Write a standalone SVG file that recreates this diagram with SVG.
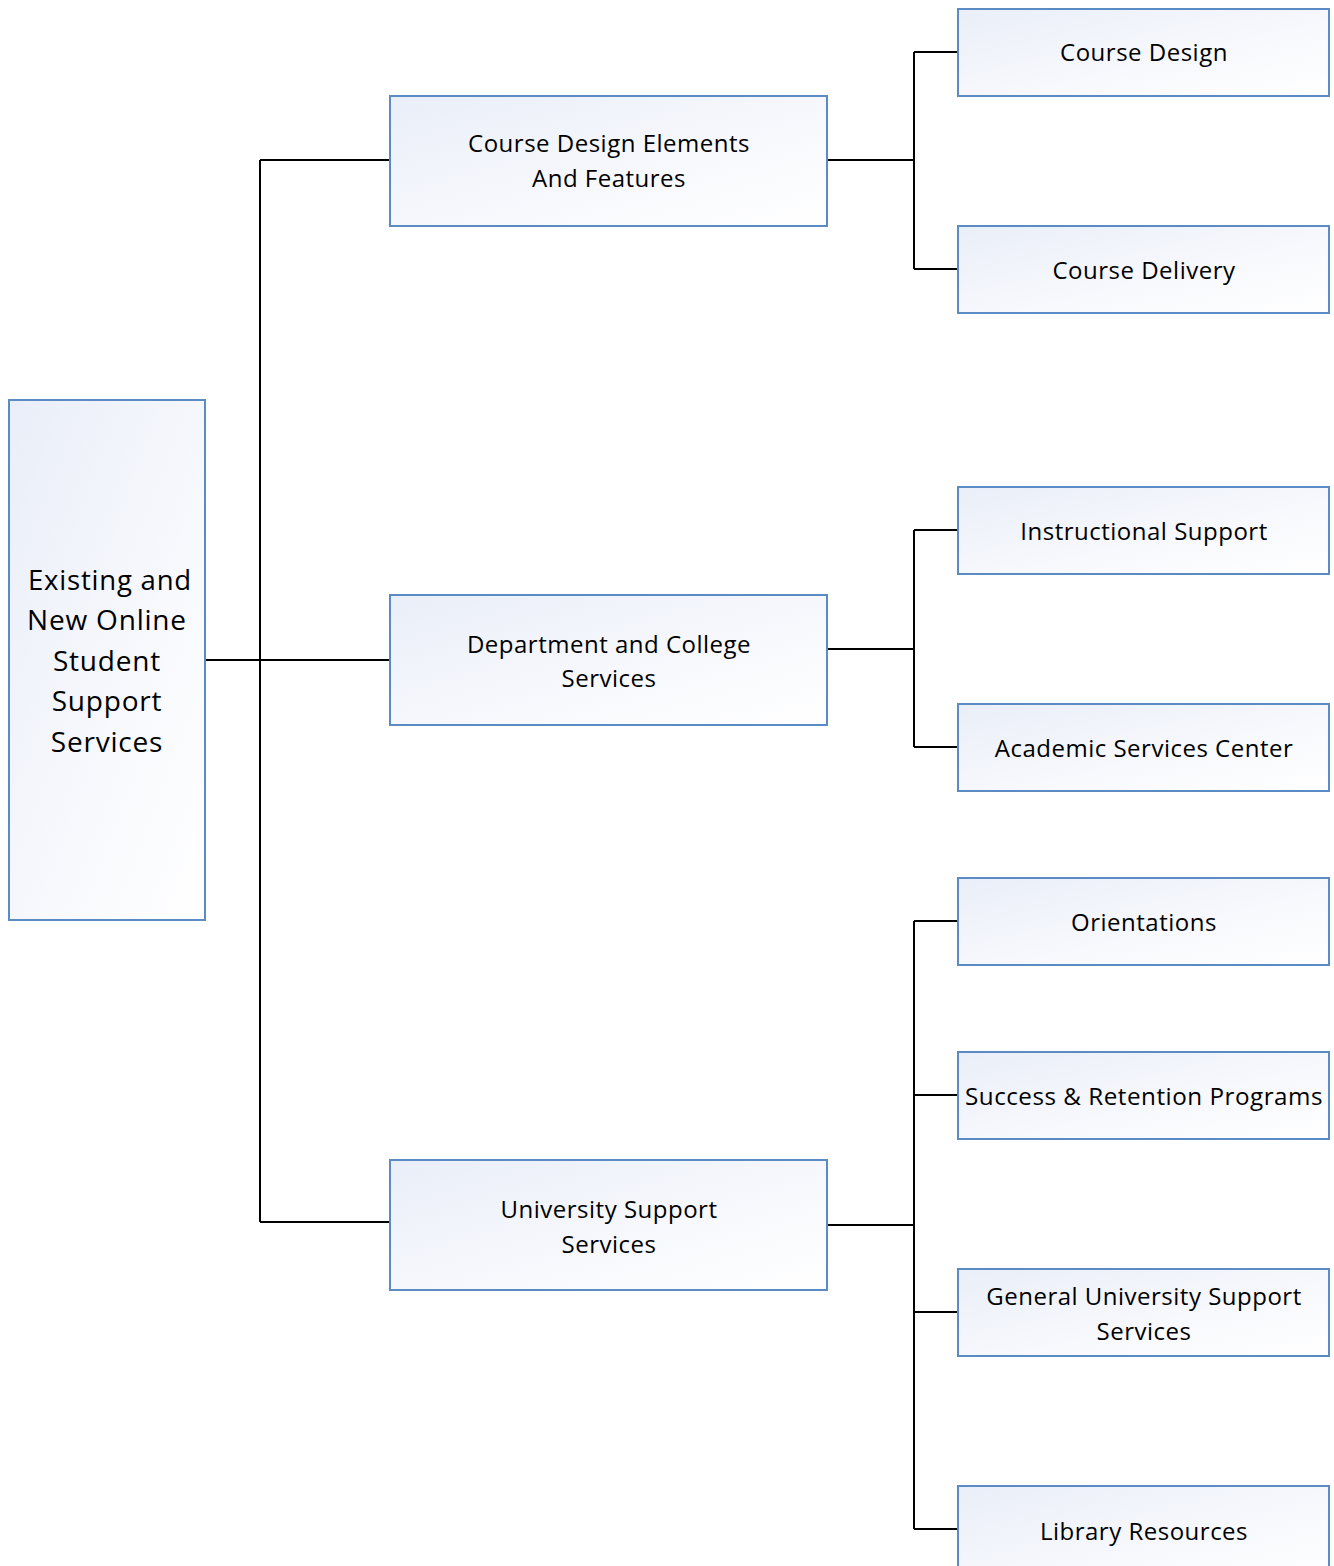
<svg xmlns="http://www.w3.org/2000/svg" width="1334" height="1566" viewBox="0 0 1334 1566">
<defs>
<linearGradient id="g" x1="0" y1="0" x2="1" y2="1">
<stop offset="0" stop-color="#e9eef8"/>
<stop offset="0.6" stop-color="#f8f9fd"/>
<stop offset="1" stop-color="#ffffff"/>
</linearGradient>
<style>
.box{fill:url(#g);stroke:#5b8bc4;stroke-width:2}
.t{font-family:"Open Sans","Liberation Sans",sans-serif;font-size:24px;letter-spacing:0.5px;fill:#000;text-anchor:middle;dominant-baseline:central}
.tr{font-family:"Open Sans","Liberation Sans",sans-serif;font-size:28px;letter-spacing:0.8px;fill:#000;text-anchor:middle;dominant-baseline:central}
.c{fill:none;stroke:#000;stroke-width:2}
</style>
</defs>
<rect width="1334" height="1566" fill="#fff"/>
<g id="connectors">
<path class="c" d="M205,660H390M260,160V1222M260,160H390M260,1222H390"/>
<path class="c" d="M827,160H914M914,52V269M914,52H958M914,269H958"/>
<path class="c" d="M827,649H914M914,530V747M914,530H958M914,747H958"/>
<path class="c" d="M827,1225H914M914,921V1529M914,921H958M914,1095H958M914,1312H958M914,1529H958"/>
</g>
<g id="root"><rect class="box" x="9" y="400" width="196" height="520"/>
<text class="tr" x="110" y="579" textLength="164" lengthAdjust="spacingAndGlyphs">Existing and</text>
<text class="tr" x="107" y="619">New Online</text>
<text class="tr" x="107" y="660">Student</text>
<text class="tr" x="107" y="700">Support</text>
<text class="tr" x="107" y="741">Services</text></g>
<g id="n1"><rect class="box" x="390" y="96" width="437" height="130"/>
<text class="t" x="609" y="142">Course Design Elements</text>
<text class="t" x="609" y="177">And Features</text></g>
<g id="n2"><rect class="box" x="390" y="595" width="437" height="130"/>
<text class="t" x="609" y="643">Department and College</text>
<text class="t" x="609" y="677">Services</text></g>
<g id="n3"><rect class="box" x="390" y="1160" width="437" height="130"/>
<text class="t" x="609" y="1208">University Support</text>
<text class="t" x="609" y="1243">Services</text></g>
<g id="c1"><rect class="box" x="958" y="9" width="371" height="87"/><text class="t" x="1144" y="51">Course Design</text></g>
<g id="c2"><rect class="box" x="958" y="226" width="371" height="87"/><text class="t" x="1144" y="269">Course Delivery</text></g>
<g id="c3"><rect class="box" x="958" y="487" width="371" height="87"/><text class="t" x="1144" y="530">Instructional Support</text></g>
<g id="c4"><rect class="box" x="958" y="704" width="371" height="87"/><text class="t" x="1144" y="747">Academic Services Center</text></g>
<g id="c5"><rect class="box" x="958" y="878" width="371" height="87"/><text class="t" x="1144" y="921">Orientations</text></g>
<g id="c6"><rect class="box" x="958" y="1052" width="371" height="87"/><text class="t" x="1144" y="1095" textLength="358" lengthAdjust="spacingAndGlyphs">Success &amp; Retention Programs</text></g>
<g id="c7"><rect class="box" x="958" y="1269" width="371" height="87"/><text class="t" x="1144" y="1295">General University Support</text><text class="t" x="1144" y="1330">Services</text></g>
<g id="c8"><rect class="box" x="958" y="1486" width="371" height="100"/><text class="t" x="1144" y="1530">Library Resources</text></g>
</svg>
